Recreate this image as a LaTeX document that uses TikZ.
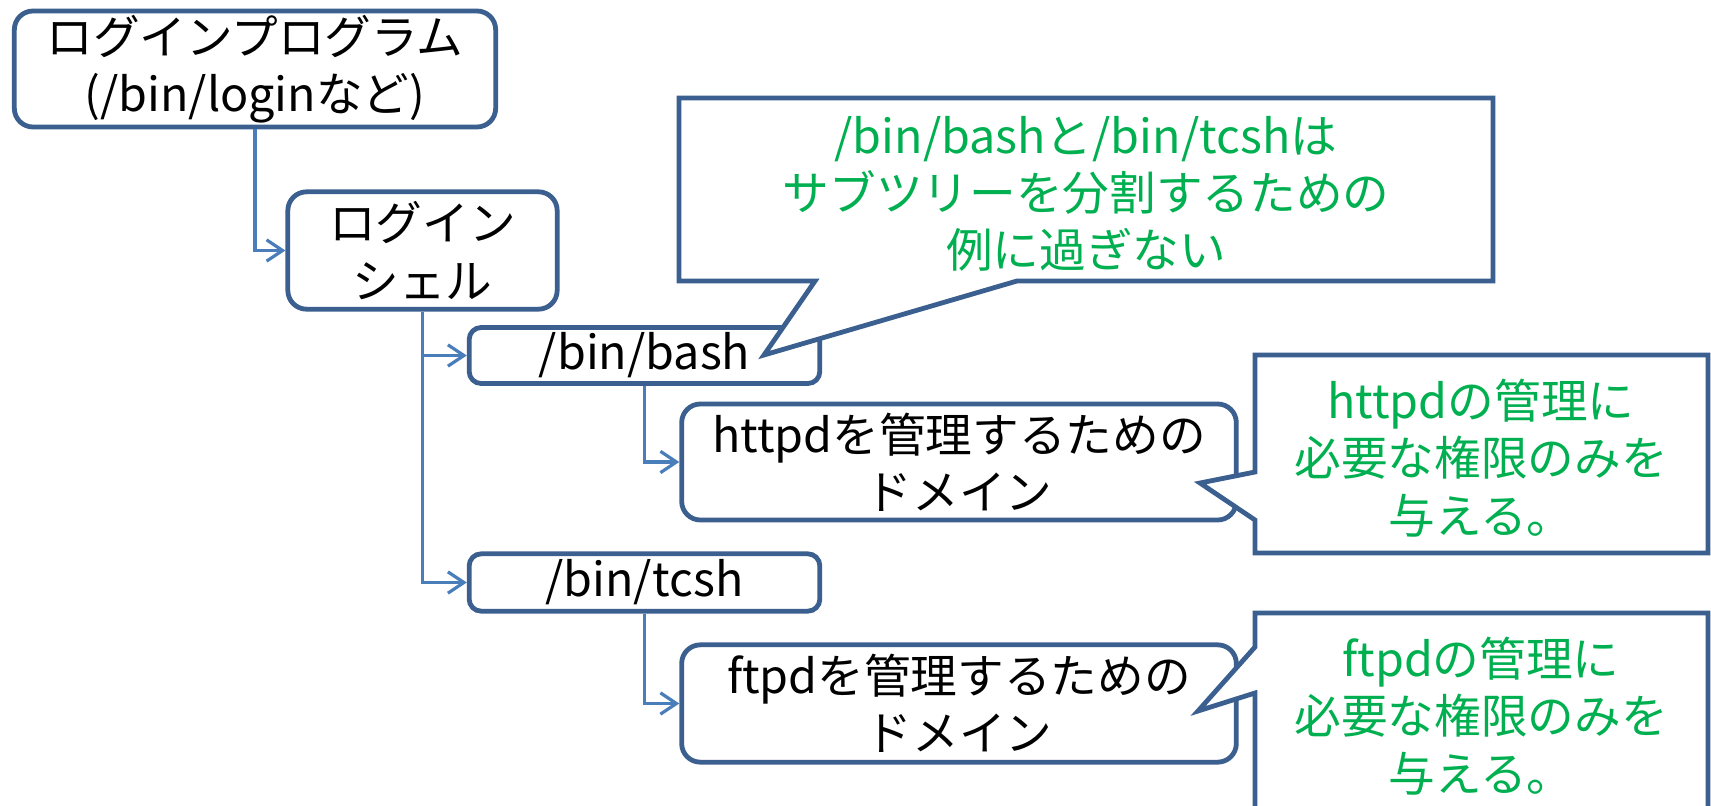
\documentclass[tikz,border=0pt]{standalone}
\usepackage{fontspec}
\setmainfont{Noto Sans CJK JP}
\usetikzlibrary{arrows.meta}
\definecolor{boxblue}{HTML}{3B5F8F}
\definecolor{linkblue}{HTML}{4A7EBB}
\definecolor{notegreen}{HTML}{00B050}
\begin{document}
\begin{tikzpicture}[x=0.75pt,y=-0.75pt,
  every node/.style={font=\fontsize{35}{43}\selectfont, inner sep=0pt},
  tallbox/.style={draw=boxblue, line width=3.6pt, rounded corners=14pt, fill=white, align=center},
  flatbox/.style={draw=boxblue, line width=3.6pt, rounded corners=9pt, fill=white, align=center},
  note/.style={text=notegreen, align=center},
  noteframe/.style={draw=boxblue, line width=3.6pt, fill=white, line join=miter},
  link/.style={draw=linkblue, line width=2.4pt, -{Straight Barb[length=12pt,width=16pt]}}]
\useasboundingbox (0,0) rectangle (1711,806);
\clip (0,0) rectangle (1711,806);
\fill[white] (0,0) rectangle (1711,806);

% boxes
\node[tallbox, minimum width=361pt, minimum height=87pt] (login) at (255,69) {ログインプログラム\\(/bin/loginなど)};
\node[tallbox, minimum width=202pt, minimum height=88pt] (shell) at (422.5,250.5) {ログイン\\シェル};
\node[flatbox, minimum width=263pt, minimum height=42pt] (bash) at (644.5,355.5) {/bin/bash};
\node[tallbox, minimum width=416pt, minimum height=87pt] (httpd) at (959,462) {httpdを管理するための\\ドメイン};
\node[flatbox, minimum width=263pt, minimum height=43pt] (tcsh) at (644.5,582.5) {/bin/tcsh};
\node[tallbox, minimum width=416pt, minimum height=88pt] (ftpd) at (959,703.5) {ftpdを管理するための\\ドメイン};

% connectors
\draw[link] (login.south) |- (shell.west);
\draw[link] (shell.south) |- (bash.west);
\draw[link] (shell.south) |- (tcsh.west);
\draw[link] (bash.south) |- (httpd.west);
\draw[link] (tcsh.south) |- (ftpd.west);

% callout frames
\draw[noteframe] (679,98) -- (1493,98) -- (1493,281) -- (1017,281) -- (764,355) -- (815,281) -- (679,281) -- cycle;
\draw[noteframe] (1255,355) -- (1708,355) -- (1708,553) -- (1255,553) -- (1255,520) -- (1200,483) -- (1255,472) -- cycle;
\draw[noteframe] (1255,613) -- (1708,613) -- (1708,900) -- (1255,900) -- (1255,693) -- (1198,711) -- (1255,647) -- cycle;

% callout texts
\node[note] (n1) at (1086,194) {/bin/bashと/bin/tcshは\\サブツリーを分割するための\\例に過ぎない};
\node[note] (n2) at (1481,458) {httpdの管理に\\必要な権限のみを\\与える。};
\node[note] (n3) at (1481,716) {ftpdの管理に\\必要な権限のみを\\与える。};
\end{tikzpicture}
\end{document}
